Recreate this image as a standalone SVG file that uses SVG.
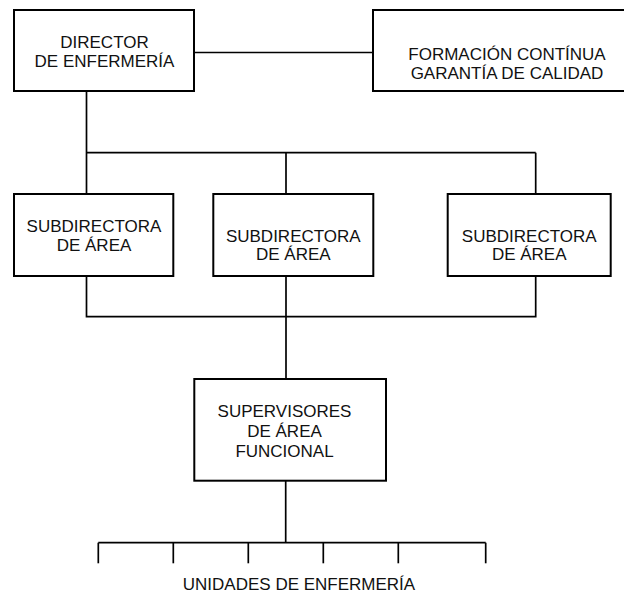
<svg xmlns="http://www.w3.org/2000/svg" width="624" height="606" viewBox="0 0 624 606">
  <style>
    .box { fill: #ffffff; stroke: #000000; stroke-width: 2; }
    .wire { fill: none; stroke: #000000; stroke-width: 1.7; }
    .lbl { font-family: "Liberation Sans", Arial, sans-serif; font-size: 17px; fill: #111111; text-anchor: middle; }
  </style>
  <rect width="624" height="606" fill="#ffffff"/>

  <!-- connectors -->
  <g id="connectors">
    <line class="wire" x1="194" y1="52.5" x2="373" y2="52.5"/>
    <line class="wire" x1="86.5" y1="91" x2="86.5" y2="194"/>
    <line class="wire" x1="86.5" y1="152.7" x2="535.7" y2="152.7"/>
    <line class="wire" x1="286" y1="152.7" x2="286" y2="194"/>
    <line class="wire" x1="535.7" y1="152.7" x2="535.7" y2="194"/>
    <polyline class="wire" points="86.5,276 86.5,316.7 535.7,316.7 535.7,276"/>
    <line class="wire" x1="286" y1="276" x2="286" y2="379"/>
    <line class="wire" x1="285.7" y1="480.7" x2="285.7" y2="542.7"/>
    <line class="wire" x1="98.3" y1="542.7" x2="485.7" y2="542.7"/>
    <line class="wire" x1="98.3" y1="542.7" x2="98.3" y2="563.3"/>
    <line class="wire" x1="173.3" y1="542.7" x2="173.3" y2="563.3"/>
    <line class="wire" x1="248.3" y1="542.7" x2="248.3" y2="563.3"/>
    <line class="wire" x1="323.3" y1="542.7" x2="323.3" y2="563.3"/>
    <line class="wire" x1="398.3" y1="542.7" x2="398.3" y2="563.3"/>
    <line class="wire" x1="485.7" y1="542.7" x2="485.7" y2="563.3"/>
  </g>

  <g id="director">
    <rect class="box" x="14" y="10" width="180" height="81"/>
    <text class="lbl" x="104.5" y="48.3">DIRECTOR</text>
    <text class="lbl" x="104.5" y="67">DE ENFERMERÍA</text>
  </g>

  <g id="formacion">
    <rect class="box" x="373" y="10" width="260" height="81"/>
    <text class="lbl" x="507" y="59.5">FORMACIÓN CONTÍNUA</text>
    <text class="lbl" x="507" y="78.5">GARANTÍA DE CALIDAD</text>
  </g>

  <g id="subdirectora-1">
    <rect class="box" x="14" y="194" width="159.3" height="82"/>
    <text class="lbl" x="94" y="232.3">SUBDIRECTORA</text>
    <text class="lbl" x="94" y="251">DE ÁREA</text>
  </g>

  <g id="subdirectora-2">
    <rect class="box" x="213.3" y="194" width="160" height="82"/>
    <text class="lbl" x="293.3" y="241.7">SUBDIRECTORA</text>
    <text class="lbl" x="293.3" y="260.3">DE ÁREA</text>
  </g>

  <g id="subdirectora-3">
    <rect class="box" x="447.7" y="194" width="163" height="82"/>
    <text class="lbl" x="529.2" y="241.7">SUBDIRECTORA</text>
    <text class="lbl" x="529.2" y="260.3">DE ÁREA</text>
  </g>

  <g id="supervisores">
    <rect class="box" x="194.3" y="379" width="191.7" height="101.7"/>
    <text class="lbl" x="284.5" y="416.5">SUPERVISORES</text>
    <text class="lbl" x="284.5" y="436.7">DE ÁREA</text>
    <text class="lbl" x="284.5" y="456.7">FUNCIONAL</text>
  </g>

  <g id="unidades">
    <text class="lbl" x="299" y="590">UNIDADES DE ENFERMERÍA</text>
  </g>
</svg>
